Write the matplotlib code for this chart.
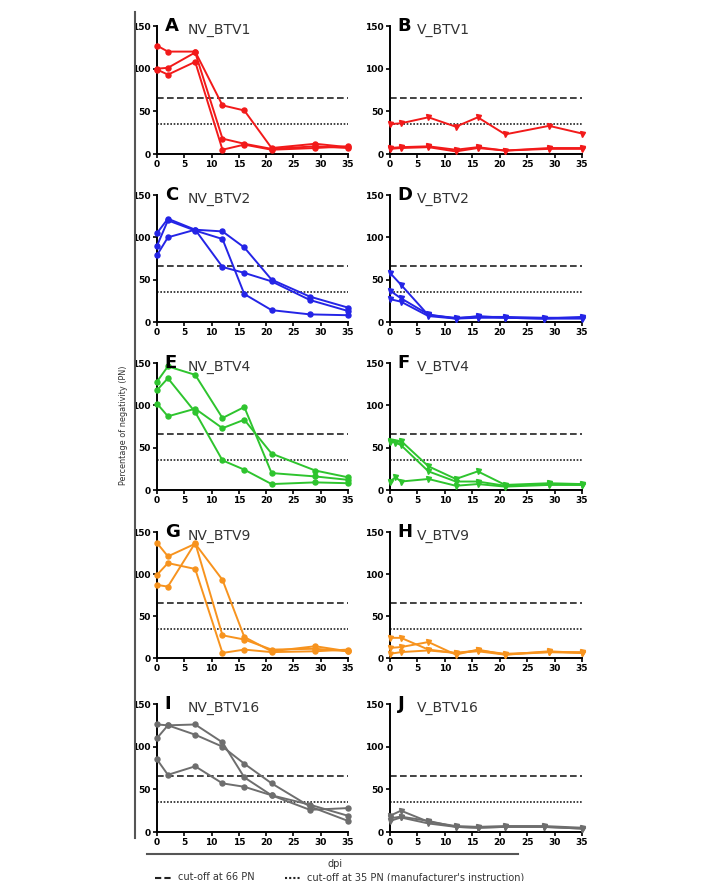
import numpy as np
import matplotlib.pyplot as plt
from matplotlib.lines import Line2D

# days post infection for each panel
dpi_A = [0, 2, 7, 12, 16, 21, 29, 35]
nv_btv1 = [[127, 120, 120, 57, 51, 7, 12, 8],
           [100, 101, 119, 18, 12, 6, 9, 7],
           [99, 93, 108, 5, 11, 5, 7, 9]]
dpi_B = [0, 2, 7, 12, 16, 21, 29, 35]
v_btv1 = [[35, 36, 43, 32, 43, 23, 33, 24],
          [7, 8, 9, 5, 8, 4, 7, 7],
          [6, 7, 8, 3, 7, 4, 6, 6]]

dpi_C = [0, 2, 7, 12, 16, 21, 28, 35]
nv_btv2 = [[105, 122, 109, 107, 88, 50, 30, 17],
           [90, 120, 108, 98, 33, 14, 9, 8],
           [79, 100, 109, 65, 58, 48, 26, 13]]
dpi_D = [0, 2, 7, 12, 16, 21, 28, 35]
v_btv2 = [[58, 44, 8, 5, 6, 6, 5, 5],
          [37, 28, 9, 4, 7, 5, 4, 6],
          [27, 24, 7, 4, 5, 5, 4, 4]]

dpi_E = [0, 2, 7, 12, 16, 21, 29, 35]
nv_btv4 = [[128, 146, 136, 85, 98, 20, 16, 12],
           [102, 87, 96, 73, 83, 43, 23, 15],
           [118, 132, 92, 35, 24, 7, 9, 8]]
dpi_F = [0, 1, 2, 7, 12, 16, 21, 29, 35]
v_btv4 = [[58, 57, 58, 28, 13, 22, 6, 8, 7],
          [57, 56, 53, 22, 10, 10, 5, 7, 6],
          [10, 15, 10, 13, 5, 7, 4, 6, 6]]

dpi_G = [0, 2, 7, 12, 16, 21, 29, 35]
nv_btv9 = [[137, 121, 136, 93, 25, 8, 14, 8],
           [99, 113, 106, 6, 10, 7, 8, 10],
           [87, 85, 137, 27, 22, 10, 11, 8]]
dpi_H = [0, 2, 7, 12, 16, 21, 29, 35]
v_btv9 = [[24, 24, 10, 6, 9, 5, 7, 6],
          [12, 13, 19, 4, 10, 4, 8, 6],
          [5, 7, 9, 6, 8, 4, 7, 7]]

dpi_I = [0, 2, 7, 12, 16, 21, 28, 35]
nv_btv16 = [[126, 125, 126, 105, 64, 43, 32, 19],
            [110, 125, 114, 100, 80, 57, 30, 13],
            [85, 67, 77, 57, 53, 43, 26, 28]]
dpi_J = [0, 2, 7, 12, 16, 21, 28, 35]
v_btv16 = [[19, 25, 12, 7, 6, 7, 7, 5],
           [13, 17, 10, 6, 5, 6, 6, 4],
           [16, 18, 13, 6, 5, 6, 6, 4]]

letters = ['A', 'B', 'C', 'D', 'E', 'F', 'G', 'H', 'I', 'J']
titles = ['NV_BTV1', 'V_BTV1', 'NV_BTV2', 'V_BTV2', 'NV_BTV4', 'V_BTV4',
          'NV_BTV9', 'V_BTV9', 'NV_BTV16', 'V_BTV16']
colors = ['#f21a1a', '#2424e6', '#2ec42e', '#f7931e', '#6e6e6e']
cutoff_high = 66
cutoff_low = 35

panels = [(dpi_A, nv_btv1), (dpi_B, v_btv1), (dpi_C, nv_btv2), (dpi_D, v_btv2),
          (dpi_E, nv_btv4), (dpi_F, v_btv4), (dpi_G, nv_btv9), (dpi_H, v_btv9),
          (dpi_I, nv_btv16), (dpi_J, v_btv16)]

W, H = 717, 881
fig = plt.figure(figsize=(W / 100, H / 100), dpi=100)

col_x = [(157, 348), (390, 582)]
row_y = [(26, 154), (195, 322), (363, 490), (532, 658), (704, 832)]

for i, (days, series) in enumerate(panels):
    r, c = divmod(i, 2)
    x0, x1 = col_x[c]
    y0, y1 = row_y[r]
    ax = fig.add_axes([x0 / W, 1 - y1 / H, (x1 - x0) / W, (y1 - y0) / H])
    ax.set_xlim(0, 35)
    ax.set_ylim(0, 150)
    ax.set_clip_on(False)
    marker = 'o' if c == 0 else 'v'
    for s in series:
        ax.plot(days, s, color=colors[r], lw=1.4, marker=marker, ms=3.6,
                clip_on=False, zorder=3)
    ax.plot([0, 35], [cutoff_high, cutoff_high], color='#222222', lw=1.2,
            ls=(0, (4, 2)), zorder=2)
    ax.plot([0, 35], [cutoff_low, cutoff_low], color='#222222', lw=1.2,
            ls=(0, (1, 1)), zorder=2)
    for side in ['top', 'right']:
        ax.spines[side].set_visible(False)
    ax.spines['left'].set_linewidth(1.4)
    ax.spines['bottom'].set_linewidth(1.4)
    ax.set_xticks(np.arange(0, 36, 5))
    ax.set_yticks([0, 50, 100, 150])
    ax.tick_params(direction='out', length=3, width=1.2, pad=1.5,
                   labelsize=6.5)
    for lab in ax.get_xticklabels() + ax.get_yticklabels():
        lab.set_fontweight('bold')
    ax.text(0.04, 1.0, letters[i], transform=ax.transAxes, fontsize=13,
            fontweight='bold', va='center', ha='left')
    ax.text(0.16 if c == 0 else 0.14, 0.97, titles[i], transform=ax.transAxes,
            fontsize=10, va='center', ha='left', color='#333333')

# outer y axis line and label
fig.add_artist(Line2D([135 / W, 135 / W], [1 - 12 / H, 1 - 838 / H],
                      color='#555555', lw=1.5))
fig.text(123 / W, 1 - 425 / H, 'Percentage of negativity (PN)', rotation=90,
         ha='center', va='center', fontsize=6.5, color='#333333',
         fontstretch='condensed')

# bottom x line and label
fig.add_artist(Line2D([147 / W, 518 / W], [1 - 854 / H, 1 - 854 / H],
                      color='#555555', lw=1.5))
fig.text(335 / W, 1 - 864 / H, 'dpi', ha='center', va='center', fontsize=7,
         color='#333333')

# legend row (partly cut at the bottom edge)
fig.add_artist(Line2D([155 / W, 172 / W], [1 - 878 / H, 1 - 878 / H],
                      color='#222222', lw=1.5, ls=(0, (3, 1.5))))
fig.text(178 / W, 1 - 877 / H, 'cut-off at 66 PN', ha='left', va='center',
         fontsize=7, color='#333333')
fig.add_artist(Line2D([285 / W, 300 / W], [1 - 878 / H, 1 - 878 / H],
                      color='#222222', lw=1.5, ls=(0, (1, 1))))
fig.text(307 / W, 1 - 877 / H, "cut-off at 35 PN (manufacturer's instruction)",
         ha='left', va='center', fontsize=7, color='#333333')

fig.savefig('out.png', dpi=100)
